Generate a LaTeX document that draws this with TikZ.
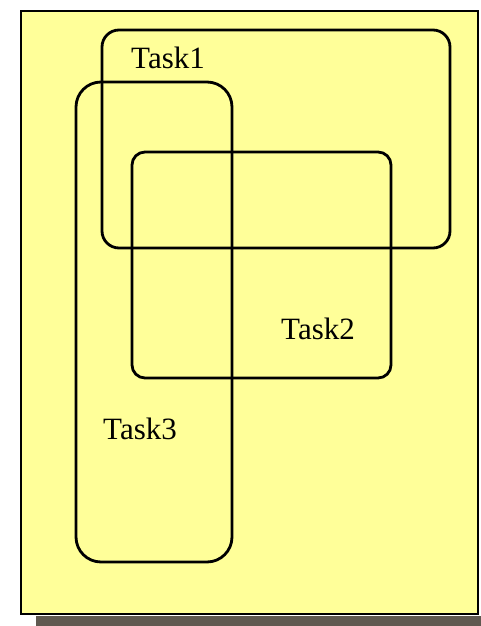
\documentclass[tikz,border=0pt]{standalone}
\usepackage{fontspec}
\setmainfont{Liberation Serif}
\definecolor{paper}{RGB}{255,255,153}
\definecolor{shadowc}{RGB}{96,89,80}
\begin{document}
\begin{tikzpicture}[x=1pt,y=-1pt,
  taskbox/.style={draw=black,line width=2.8pt},
  tasklabel/.style={anchor=base west,inner sep=0pt,font=\fontsize{31}{31}\selectfont}]
\useasboundingbox (0,0) rectangle (480,626);
\fill[shadowc] (36,616) rectangle (482,628);
\filldraw[fill=paper,draw=black,line width=2.6pt] (21,11) rectangle (478,614);
\draw[taskbox,rounded corners=17pt] (102,30) rectangle (450,248);
\draw[taskbox,rounded corners=13pt] (132,152) rectangle (391,378);
\draw[taskbox,rounded corners=25pt] (76,82) rectangle (232,562);
\node[tasklabel] (t1) at (131,68) {Task1};
\node[tasklabel] (t2) at (281,339) {Task2};
\node[tasklabel] (t3) at (103,439) {Task3};
\end{tikzpicture}
\end{document}
